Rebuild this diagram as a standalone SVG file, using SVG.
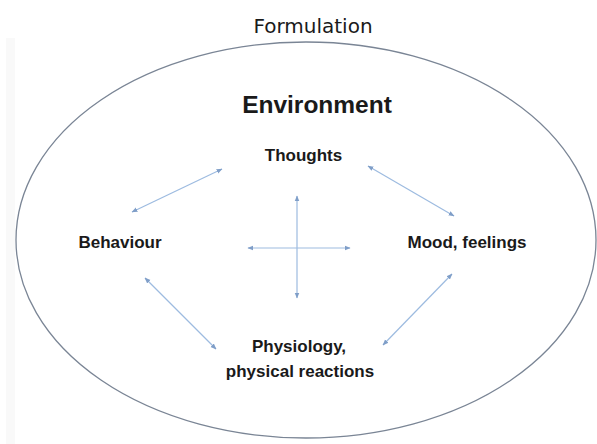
<svg xmlns="http://www.w3.org/2000/svg" width="597" height="444" viewBox="0 0 597 444">
  <style>
    .title { font-family: "DejaVu Sans", "Liberation Sans", sans-serif; font-size: 20px; fill: #1a1a1a; }
    .lbl { font-family: "Liberation Sans", Arial, sans-serif; font-weight: bold; fill: #1a1a1a; text-anchor: middle; font-size: 17px; }
    .big { font-size: 24.5px; }
    .link { stroke: #9dbbe0; stroke-width: 1.2; fill: none; marker-start: url(#tip); marker-end: url(#tip); }
  </style>
  <defs>
    <marker id="tip" viewBox="0 0 10 10" refX="9" refY="5" markerWidth="6" markerHeight="6" orient="auto-start-reverse" markerUnits="userSpaceOnUse">
      <path d="M0,1 L10,5 L0,9 Z" fill="#7f9ec8"/>
    </marker>
  </defs>
  <rect width="597" height="444" fill="#ffffff"/>
  <rect x="6" y="38" width="9" height="406" fill="#f9f9f9"/>

  <text class="title" x="313" y="33" text-anchor="middle">Formulation</text>

  <g id="environment">
    <ellipse cx="306" cy="240" rx="290" ry="198" fill="none" stroke="#7a8595" stroke-width="1.3"/>
    <text class="lbl big" x="317" y="113">Environment</text>
  </g>

  <g id="thoughts">
    <text class="lbl" x="303.5" y="161">Thoughts</text>
  </g>
  <g id="behaviour">
    <text class="lbl" x="120" y="248">Behaviour</text>
  </g>
  <g id="mood">
    <text class="lbl" x="467" y="248">Mood, feelings</text>
  </g>
  <g id="physiology">
    <text class="lbl" x="299" y="352">Physiology,</text>
    <text class="lbl" x="300" y="377">physical reactions</text>
  </g>

  <g id="connectors">
    <line class="link" x1="222" y1="169" x2="132" y2="212"/>
    <line class="link" x1="368" y1="166" x2="454" y2="216"/>
    <line class="link" x1="145" y1="278" x2="216" y2="349"/>
    <line class="link" x1="452" y1="274" x2="383" y2="345"/>
    <line class="link" x1="297" y1="196" x2="297" y2="298"/>
    <line class="link" x1="248" y1="248" x2="350" y2="248"/>
  </g>
</svg>
